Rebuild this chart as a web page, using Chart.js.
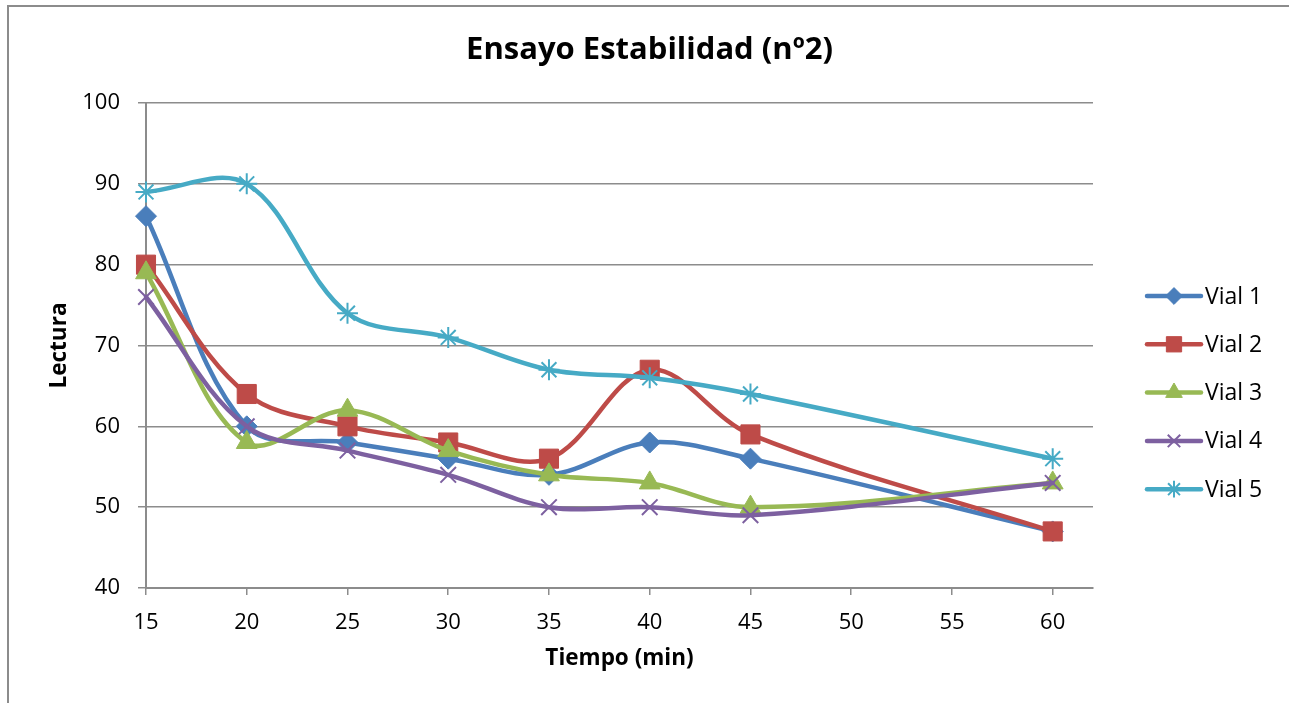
<!DOCTYPE html>
<html>
<head>
<meta charset="utf-8">
<script src="https://cdn.jsdelivr.net/npm/chart.js@4/dist/chart.umd.min.js"></script>
<style>
    html, body { margin: 0; padding: 0; background: #fff; overflow: hidden; }
    #wrap { position: relative; width: 1289px; height: 703px; }
    #frame { position: absolute; left: 7px; top: 5px; width: 1300px; height: 720px;
             border-left: 2px solid #8c8c8c; border-top: 2px solid #8c8c8c; }
    #chart { position: absolute; left: 0; top: 0; }
</style>
</head>
<body>
<div id="wrap">
    <div id="frame"></div>
    <canvas id="chart" width="1289" height="703"></canvas>
</div>
<script>
// Tiempo (min)
const tiempos = [15, 20, 25, 30, 35, 40, 45, 60];
// Lectura por vial
const vial1 = [86, 60, 58, 56, 54, 58, 56, 47];
const vial2 = [80, 64, 60, 58, 56, 67, 59, 47];
const vial3 = [79, 58, 62, 57, 54, 53, 50, 53];
const vial4 = [76, 60, 57, 54, 50, 50, 49, 53];
const vial5 = [89, 90, 74, 71, 67, 66, 64, 56];
const etiquetas = ['Vial 1', 'Vial 2', 'Vial 3', 'Vial 4', 'Vial 5'];

const FONT = '"Open Sans", Lato, sans-serif';

const SERIES = [
    { label: etiquetas[0], data: vial1, color: '#4a7ebb', style: 'rectRot',  r: 10.5, bw: 1 },
    { label: etiquetas[1], data: vial2, color: '#be4b48', style: 'rect',     r: 13.5, bw: 1 },
    { label: etiquetas[2], data: vial3, color: '#98b954', style: 'triangle', r: 12,   bw: 1 },
    { label: etiquetas[3], data: vial4, color: '#7d60a0', style: 'crossRot', r: 11,   bw: 2 },
    { label: etiquetas[4], data: vial5, color: '#46aac5', style: 'star',     r: 10.5, bw: 2 },
];

/** Leyenda a la derecha: linea con marcador en el centro, como Excel. */
const legendPlugin = {
    id: 'excelLegend',
    afterDraw(chart) {
        const ctx = chart.ctx;
        const x0 = 1147, x1 = 1201, y0 = 296, step = 48.3;
        ctx.save();
        SERIES.forEach((s, i) => {
            const y = y0 + i * step;
            ctx.strokeStyle = s.color;
            ctx.lineWidth = 4.5;
            ctx.lineCap = 'round';
            ctx.beginPath();
            ctx.moveTo(x0, y);
            ctx.lineTo(x1, y);
            ctx.stroke();
            ctx.fillStyle = s.color;
            ctx.lineWidth = s.bw;
            ctx.lineCap = 'butt';
            Chart.helpers.drawPoint(ctx, { pointStyle: s.style, radius: s.r * 0.8, borderWidth: s.bw, rotation: 0 }, (x0 + x1) / 2, y);
            ctx.fillStyle = '#000';
            ctx.font = '23px ' + FONT;
            ctx.textBaseline = 'middle';
            ctx.textAlign = 'left';
            ctx.fillText(s.label, 1205, y + 1);
        });
        ctx.restore();
    },
};

new Chart(document.getElementById('chart'), {
    type: 'line',
    data: {
        datasets: SERIES.map((s, i) => ({
            label: s.label,
            data: tiempos.map((t, k) => ({ x: t, y: s.data[k] })),
            borderColor: s.color,
            backgroundColor: s.color,
            borderWidth: 4.5,
            borderCapStyle: 'round',
            borderJoinStyle: 'round',
            tension: 0.35,
            fill: false,
            clip: false,
            pointStyle: s.style,
            pointRadius: s.r,
            pointBorderWidth: s.bw,
            pointBorderColor: s.color,
            pointBackgroundColor: s.color,
            order: SERIES.length - i,
        })),
    },
    options: {
        responsive: false,
        animation: false,
        events: [],
        layout: { padding: { left: 10, right: 0, top: 0, bottom: 31 } },
        plugins: {
            legend: { display: false },
            tooltip: { enabled: false },
            title: {
                display: true,
                text: 'Ensayo Estabilidad (nº2)',
                color: '#000',
                font: { family: FONT, size: 31, weight: 'bold', lineHeight: 1.2 },
                padding: { top: 31.4, bottom: 34.4 },
            },
        },
        scales: {
            x: {
                type: 'linear',
                min: 15,
                max: 62,
                afterBuildTicks: sc => { sc.ticks = sc.ticks.filter(t => t.value % 5 === 0); },
                afterFit: sc => { sc.height = 84; },
                ticks: { stepSize: 5, color: '#000', padding: 15, font: { family: FONT, size: 22 } },
                grid: { drawOnChartArea: false, drawTicks: true, tickLength: 7, color: '#8c8c8c', lineWidth: 1.5 },
                border: { color: '#8c8c8c', width: 2 },
                title: {
                    display: true, text: 'Tiempo (min)', color: '#000', padding: 0,
                    font: { family: FONT, size: 22.5, weight: 'bold', lineHeight: 1.2 },
                },
            },
            y: {
                min: 40,
                max: 100,
                afterFit: sc => { sc.width = 136; },
                ticks: { stepSize: 10, color: '#000', padding: 18, font: { family: FONT, size: 22 } },
                grid: { color: '#8c8c8c', lineWidth: 1.5, tickLength: 8 },
                border: { color: '#8c8c8c', width: 2 },
                title: {
                    display: true, text: 'Lectura', color: '#000', padding: { top: 36.5, bottom: 0 },
                    font: { family: FONT, size: 22.5, weight: 'bold', lineHeight: 1.2 },
                },
            },
            // eje vacio a la derecha: reserva el hueco de la leyenda
            hueco: {
                type: 'linear',
                position: 'right',
                min: 0,
                max: 1,
                afterFit: sc => { sc.width = 196; },
                ticks: { display: false },
                grid: { display: false },
                border: { display: false },
            },
        },
    },
    plugins: [legendPlugin],
});
</script>
</body>
</html>
